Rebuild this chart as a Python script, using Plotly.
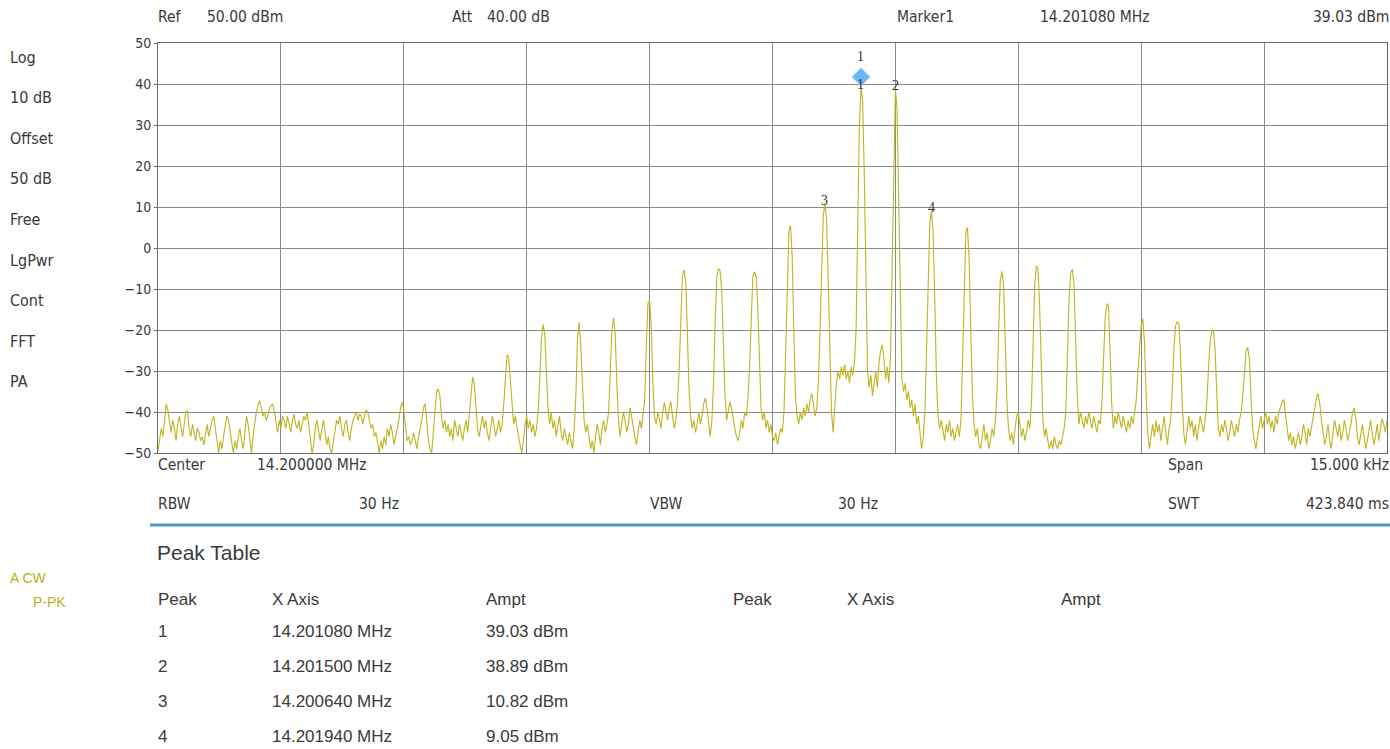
import plotly.graph_objects as go

# ---------------- data ----------------
center_mhz = 14.200000
span_khz = 15.0
n_points = 751          # trace points across the span (20 Hz step)

# trace level (dBm), left to right
level_dbm = [
    # 0-24
    -49.5, -47, -44, -46, -41, -38, -39.5, -43, -45, -42, -44, -47, -43, -41, -44, -46, -43, -40, -39.7, -44, -46, -43, -45, -47, -44,
    # 25-49
    -45, -47, -46, -48, -45, -43, -46, -44, -42, -41, -44, -48, -50, -47, -49, -46, -43, -41, -42, -45, -48, -50, -47, -49, -46,
    # 50-74
    -44, -47, -49, -45, -41, -43, -47, -50, -46, -43, -40, -38.5, -37.2, -39, -41, -40, -42, -41, -39, -38.5, -38, -40, -43, -45, -42,
    # 75-99
    -44, -41, -42, -44, -41, -43, -45, -42, -40.5, -43, -44, -42, -45, -43, -41, -42, -40, -43, -47, -50, -48, -44, -42, -45, -47,
    # 100-124
    -44, -42, -45, -48, -46, -49, -50, -47, -44, -42, -43, -41, -44, -46, -43, -42, -45, -47, -44, -42, -41, -40, -42, -40.5, -41,
    # 125-149
    -43, -41, -39.5, -40, -42, -44, -43, -46, -45, -48, -50, -47, -49, -46, -48, -44, -46, -43, -45, -48, -46, -44, -42, -39, -37.6,
    # 150-174
    -39.5, -44, -47, -46, -48, -47, -45, -47, -49, -46, -44, -42, -39, -38, -42, -47, -49, -50, -45, -39, -35, -34.4, -36, -41, -44,
    # 175-199
    -42, -45, -43, -46, -44, -47, -42, -44, -46, -43, -45, -47, -44, -42, -45, -40, -35, -31.5, -33, -39, -44, -46, -43, -41, -44,
    # 200-224
    -42, -45, -47, -44, -41, -43, -46, -44, -42, -45, -43, -38, -31, -26.1, -26.5, -32, -39, -43, -41, -44, -46, -48, -50, -47, -43,
    # 225-249
    -41, -44, -42, -45, -43, -46, -44, -40, -32, -22, -18.6, -21, -30, -39, -43, -40, -44, -42, -46, -43, -41, -45, -47, -44, -46,
    # 250-274
    -48, -45, -47, -49, -44, -36, -22, -18.1, -24, -35, -42, -45, -43, -46, -49, -47, -50, -46, -43, -45, -48, -44, -42, -45, -43,
    # 275-299
    -40, -31, -20, -17.1, -21, -33, -42, -46, -43, -40, -42, -45, -43, -39, -41, -44, -46, -48, -45, -42, -44, -41, -37, -24, -13.5,
    # 300-324
    -12.8, -19, -33, -41, -43, -40, -42, -44, -40, -37.7, -40, -42, -39, -37.5, -41, -44, -42, -38, -30, -17, -7, -5.3, -8, -20, -34,
    # 325-349
    -41, -44, -42, -45, -43, -40, -43, -41, -38, -36.6, -39, -43, -46, -42, -33, -18, -7, -5, -5.5, -10, -23, -36, -42, -40, -37.6,
    # 350-374
    -39, -42, -44, -46, -47, -45, -42, -44, -40, -41, -37, -29, -16, -7, -5.8, -7, -14, -28, -39, -42, -40, -44, -42, -45, -43,
    # 375-399
    -46, -47, -45, -48, -46, -44, -45, -40, -26, -8, 4, 5.5, -2, -20, -36, -41, -43, -40, -42, -39, -41, -38, -40, -37, -35.5,
    # 400-424
    -38, -41, -39, -33, -20, -3, 8, 10.82, 7, -8, -26, -40, -45, -38, -33, -30, -32, -29, -31, -28.5, -32, -30, -33, -29, -31,
    # 425-449
    -28, -20, 5, 30, 39.03, 36, 18, -12, -30, -34, -31, -36, -33, -30, -34, -28, -25, -23.6, -27, -32, -29, -33, -27, -5, 25,
    # 450-474
    38.89, 34, 12, -15, -32, -35, -33, -37, -35, -39, -37, -41, -38, -43, -41, -45, -49, -46, -40, -25, -6, 6, 9.05, 4, -12,
    # 475-499
    -31, -41, -44, -42, -45, -47, -43, -45, -42, -46, -44, -47, -45, -43, -46, -42, -27, -8, 4, 5, -3, -20, -36, -43, -46,
    # 500-524
    -44, -48, -49, -46, -43, -47, -45, -49, -47, -44, -46, -42, -35, -20, -8, -5.7, -9, -22, -37, -44, -47, -45, -48, -44, -41,
    # 525-549
    -40, -43, -46, -44, -47, -45, -42, -44, -38, -24, -9, -4.4, -5, -14, -30, -42, -46, -44, -47, -49, -47, -49, -46, -48, -49,
    # 550-574
    -47, -48, -46, -44, -40, -27, -12, -6, -5.2, -9, -22, -36, -43, -40, -42, -44, -41, -43, -40, -42, -44, -41, -43, -45, -42,
    # 575-599
    -43, -38, -27, -17, -13.6, -14, -25, -38, -44, -41, -43, -40, -42, -44, -41, -43, -45, -42, -44, -41, -43, -40, -37, -30, -24,
    # 600-624
    -19, -17.2, -23, -36, -45, -49, -46, -43, -46, -42, -45, -43, -47, -44, -41, -45, -48, -44, -42, -34, -24, -19, -18, -18.5, -26,
    # 625-649
    -38, -45, -48, -44, -41, -44, -42, -46, -43, -47, -44, -41, -43, -45, -42, -38, -30, -23, -20.5, -19.9, -24, -35, -44, -46, -43,
    # 650-674
    -45, -42, -44, -47, -45, -42, -44, -46, -43, -45, -42, -40, -36, -30, -25, -24.3, -27, -36, -44, -47, -49, -46, -43, -41, -44,
    # 675-699
    -42, -40, -43, -41, -44, -42, -45, -41, -43, -40, -39, -37.5, -37, -40, -44, -47, -45, -48, -46, -49, -47, -45, -48, -46, -43,
    # 700-724
    -45, -48, -44, -46, -43, -41, -39, -36.5, -35.5, -38, -42, -45, -48, -46, -43, -47, -49, -45, -42, -44, -46, -43, -47, -45, -42,
    # 725-749
    -44, -47, -45, -43, -40, -39, -42, -46, -48, -45, -43, -46, -49, -47, -44, -42, -45, -48, -46, -43, -47, -44, -41.6, -43, -45,
    # 750
    -42,
]

# peak table
peak_ids = ["1", "2", "3", "4"]
peak_freq_mhz = [14.201080, 14.201500, 14.200640, 14.201940]
peak_ampt_dbm = [39.03, 38.89, 10.82, 9.05]

# instrument settings
ref_level = "50.00 dBm"
attenuation = "40.00 dB"
rbw = "30 Hz"
vbw = "30 Hz"
swt = "423.840 ms"
left_labels = ["Log", "10 dB", "Offset", "50 dB", "Free", "LgPwr", "Cont", "FFT", "PA"]
y_ticks = [50, 40, 30, 20, 10, 0, -10, -20, -30, -40, -50]

# ---------------- figure ----------------
f_start = center_mhz - span_khz / 2000.0
f_stop = center_mhz + span_khz / 2000.0
freq_mhz = [f_start + (f_stop - f_start) * i / (n_points - 1) for i in range(n_points)]

TRACE = "#bfb520"
TXT = "#3a3a3a"
FONT_UI = "DejaVu Sans Condensed, DejaVu Sans"
FONT_TBL = "Liberation Sans, Arial"
UI_SIZE = 15.5
LEFT_SIZE = 16
TBL_SIZE = 17

PAGE_W, PAGE_H = 1390, 749
pl, pr, pt, pb = 158.0, 1387.0, 43.0, 453.0   # plot area in page pixels

fig = go.Figure()
fig.add_trace(go.Scatter(x=freq_mhz, y=level_dbm, mode="lines",
                         line=dict(color=TRACE, width=1.1), hoverinfo="skip"))

# marker 1 diamond drawn just above the peak
fig.add_trace(go.Scatter(x=[peak_freq_mhz[0]], y=[peak_ampt_dbm[0] + 2.7], mode="markers",
                         marker=dict(symbol="diamond", size=14, color="#6cb8f0",
                                     line=dict(color="#a6d4f7", width=1)),
                         hoverinfo="skip"))

fig.update_layout(
    width=PAGE_W, height=PAGE_H,
    margin=dict(l=pl, r=PAGE_W - pr, t=pt, b=PAGE_H - pb),
    paper_bgcolor="white", plot_bgcolor="white",
    showlegend=False,
    font=dict(family=FONT_UI, size=UI_SIZE, color=TXT),
)
fig.update_xaxes(range=[f_start, f_stop], dtick=span_khz / 10000.0, tick0=f_start,
                 showticklabels=False, showgrid=True, gridcolor="#8a8a8a", gridwidth=1,
                 zeroline=False, showline=True, linecolor="#6a6a6a", linewidth=1, mirror=True,
                 ticks="")
fig.update_yaxes(range=[-50, 50], tickvals=y_ticks, showgrid=True, gridcolor="#8a8a8a",
                 gridwidth=1, zeroline=False, showline=True, linecolor="#6a6a6a", linewidth=1,
                 mirror=True, ticks="outside", ticklen=3, tickcolor="#6a6a6a",
                 tickfont=dict(family=FONT_UI, size=14, color=TXT), ticklabelstandoff=0)

ann = []

def txt(x, y, s, xanchor="left", size=UI_SIZE, color=TXT, family=FONT_UI):
    ann.append(dict(x=x, y=y, xref="paper", yref="paper", text=s, showarrow=False,
                    xanchor=xanchor, yanchor="middle", borderpad=0, borderwidth=0,
                    font=dict(size=size, color=color, family=family)))

def px(xp, yp, s, **kw):
    # convert page-pixel position to paper coords
    txt((xp - pl) / (pr - pl), (pb - yp) / (pb - pt), s, **kw)

# header
px(158, 17, "Ref")
px(207, 17, ref_level)
px(452, 17, "Att")
px(487, 17, attenuation)
px(897, 17, "Marker1")
px(1040, 17, f"{peak_freq_mhz[0]:.6f} MHz")
px(1389, 17, f"{peak_ampt_dbm[0]:.2f} dBm", xanchor="right")

# left column
for k, s in enumerate(left_labels):
    px(10, 57 + k * 40.6, s, size=LEFT_SIZE)

# bottom settings
px(158, 465, "Center")
px(257, 465, f"{center_mhz:.6f} MHz")
px(1168, 465, "Span")
px(1389, 465, f"{span_khz:.3f} kHz", xanchor="right")
px(158, 504, "RBW")
px(359, 504, rbw)
px(650, 504, "VBW")
px(838, 504, vbw)
px(1168, 504, "SWT")
px(1389, 504, swt, xanchor="right")

# peak table
px(157, 552, "Peak Table", size=21, family=FONT_TBL)
px(10, 578, "A CW", size=14, color="#b8b020", family=FONT_TBL)
px(33, 602, "P-PK", size=14, color="#b8b020", family=FONT_TBL)
for x0 in (158, 733):
    px(x0, 599, "Peak", size=TBL_SIZE, family=FONT_TBL)
    px(x0 + 114, 599, "X Axis", size=TBL_SIZE, family=FONT_TBL)
    px(x0 + 328, 599, "Ampt", size=TBL_SIZE, family=FONT_TBL)
for k, (pid, fq, am) in enumerate(zip(peak_ids, peak_freq_mhz, peak_ampt_dbm)):
    yy = 631 + k * 35.3
    px(158, yy, pid, size=TBL_SIZE, family=FONT_TBL)
    px(272, yy, f"{fq:.6f} MHz", size=TBL_SIZE, family=FONT_TBL)
    px(486, yy, f"{am:.2f} dBm", size=TBL_SIZE, family=FONT_TBL)

# peak number labels on the trace
for pid, fq, am in zip(peak_ids, peak_freq_mhz, peak_ampt_dbm):
    ann.append(dict(x=fq, y=am, xref="x", yref="y", text=pid, showarrow=False,
                    xanchor="center", yanchor="middle", yshift=3,
                    font=dict(size=14, color="#333333", family="Liberation Serif, DejaVu Serif")))
# marker number above the diamond
ann.append(dict(x=peak_freq_mhz[0], y=peak_ampt_dbm[0], xref="x", yref="y", text="1",
                showarrow=False, xanchor="center", yanchor="middle", yshift=31,
                font=dict(size=14, color="#333333", family="Liberation Serif, DejaVu Serif")))

fig.update_layout(annotations=ann)

# blue separator line
fig.add_shape(type="line", xref="paper", yref="paper",
              x0=(150 - pl) / (pr - pl), x1=(1390 - pl) / (pr - pl),
              y0=(pb - 525) / (pb - pt), y1=(pb - 525) / (pb - pt),
              line=dict(color="#4b9dc4", width=3))

# remove the default page margin so the figure fills the window exactly
fig.write_html("out.html",
               config={"displayModeBar": False},
               post_script="document.body.style.margin='0';document.body.style.overflow='hidden';")
